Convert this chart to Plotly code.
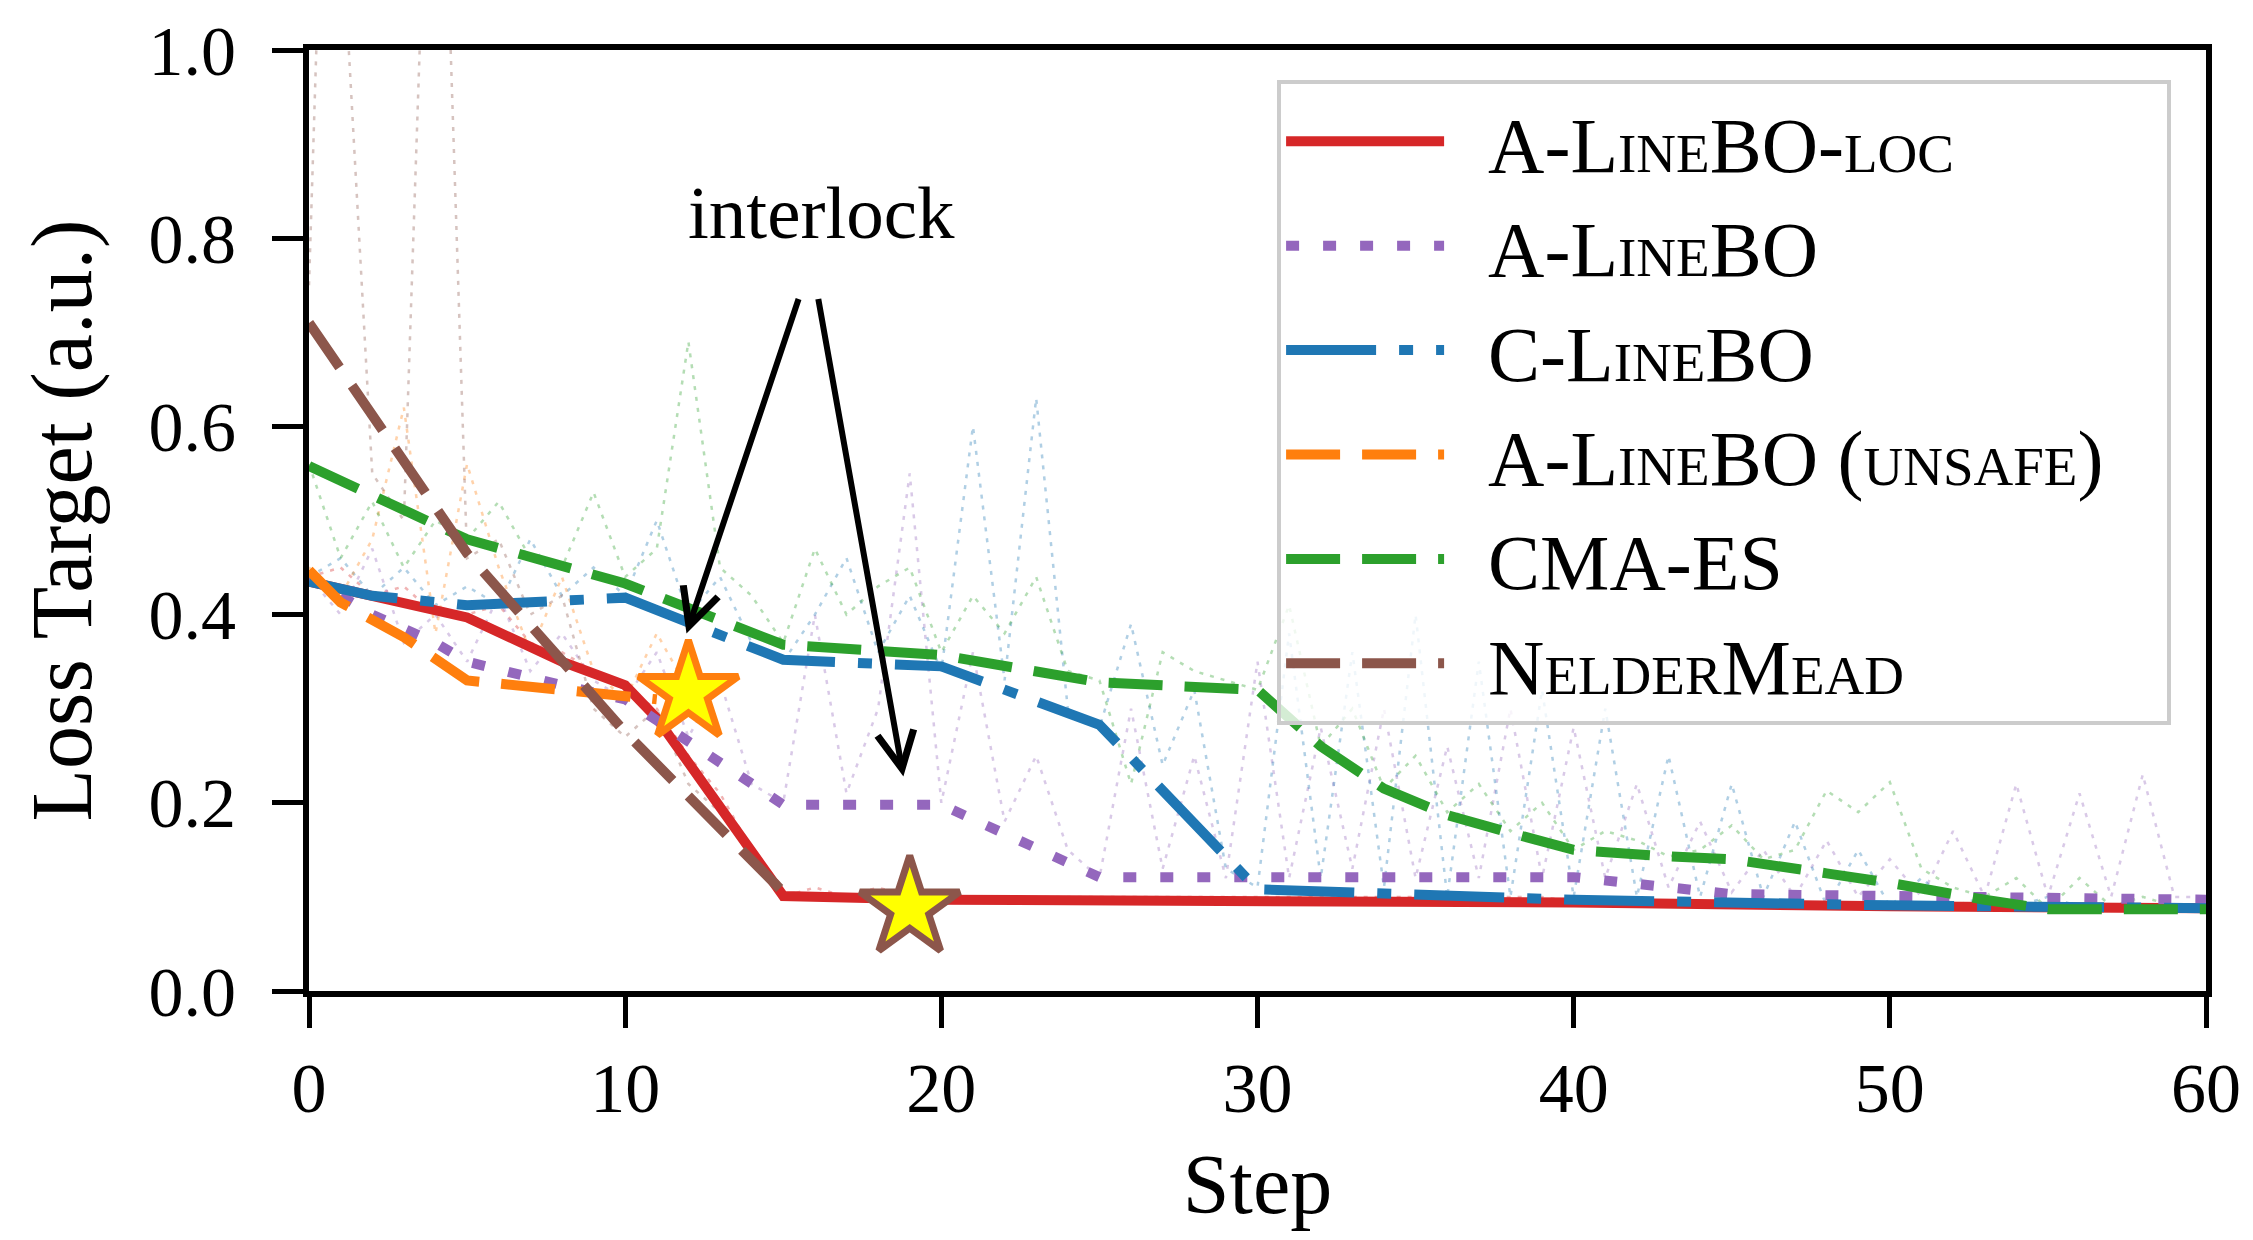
import plotly.graph_objects as go

# ---------------- data ----------------
steps = list(range(61))

# best-so-far curves (thick lines): vertex steps and values
loc_x = [0, 5, 8, 10, 11, 15, 20, 30, 40, 50, 55, 60]
loc_y = [0.435, 0.397, 0.35, 0.325, 0.29, 0.101, 0.097, 0.096, 0.094, 0.090, 0.088, 0.088]

alb_x = [0, 2, 4, 5, 8, 10, 15, 20, 25, 40, 45, 60]
alb_y = [0.44, 0.40, 0.37, 0.35, 0.325, 0.31, 0.198, 0.198, 0.121, 0.121, 0.103, 0.097]

clb_x = [0, 2, 5, 10, 15, 20, 25, 30, 40, 50, 60]
clb_y = [0.435, 0.42, 0.41, 0.418, 0.352, 0.345, 0.283, 0.108, 0.097, 0.091, 0.088]

uns_x = [0, 1, 3, 5, 8, 10, 11]
uns_y = [0.447, 0.413, 0.376, 0.33, 0.32, 0.313, 0.31]

cma_x = [0, 5, 10, 15, 20, 25, 30, 32, 34, 36, 38, 40, 43, 45, 48, 50, 53, 55, 60]
cma_y = [0.558, 0.48, 0.433, 0.368, 0.357, 0.328, 0.32, 0.26, 0.215, 0.187, 0.168, 0.15,
         0.143, 0.14, 0.125, 0.115, 0.097, 0.087, 0.087]

nm_x = [0, 5, 10, 15]
nm_y = [0.71, 0.465, 0.275, 0.105]

# raw evaluations (faint dotted lines), one value per step
loc_raw = [0.44, 0.45, 0.42, 0.43, 0.40, 0.40, 0.41, 0.37, 0.36, 0.34, 0.32, 0.30, 0.25, 0.21,
           0.15, 0.10, 0.11, 0.10, 0.11, 0.10, 0.10, 0.10, 0.10, 0.10, 0.10, 0.10, 0.10, 0.10,
           0.10, 0.10, 0.10, 0.10, 0.10, 0.10, 0.10, 0.10, 0.10, 0.10, 0.10, 0.10, 0.095, 0.095,
           0.095, 0.095, 0.095, 0.09, 0.09, 0.09, 0.09, 0.09, 0.09, 0.09, 0.09, 0.09, 0.09, 0.09,
           0.09, 0.09, 0.09, 0.09, 0.09]
alb_raw = [0.44, 0.40, 0.47, 0.37, 0.40, 0.35, 0.42, 0.34, 0.38, 0.33, 0.31, 0.36, 0.27, 0.33,
           0.22, 0.20, 0.40, 0.21, 0.30, 0.55, 0.20, 0.36, 0.18, 0.25, 0.15, 0.12, 0.30, 0.13,
           0.25, 0.12, 0.35, 0.12, 0.28, 0.13, 0.30, 0.12, 0.26, 0.12, 0.30, 0.12, 0.28, 0.12,
           0.22, 0.11, 0.18, 0.105, 0.15, 0.10, 0.16, 0.10, 0.14, 0.10, 0.17, 0.10, 0.22, 0.10,
           0.21, 0.10, 0.23, 0.10, 0.10]
clb_raw = [0.44, 0.46, 0.42, 0.45, 0.41, 0.43, 0.41, 0.48, 0.42, 0.45, 0.42, 0.50, 0.40, 0.44,
           0.37, 0.35, 0.40, 0.46, 0.36, 0.42, 0.34, 0.60, 0.33, 0.63, 0.30, 0.28, 0.39, 0.24,
           0.32, 0.13, 0.11, 0.38, 0.12, 0.36, 0.11, 0.40, 0.10, 0.35, 0.10, 0.32, 0.10, 0.30,
           0.10, 0.25, 0.10, 0.22, 0.10, 0.18, 0.09, 0.15, 0.09, 0.12, 0.09, 0.10, 0.09, 0.10,
           0.09, 0.09, 0.09, 0.09, 0.088]
uns_raw = [0.45, 0.42, 0.48, 0.62, 0.38, 0.56, 0.45, 0.36, 0.44, 0.34, 0.31, 0.38, 0.32]
cma_raw = [0.56, 0.46, 0.52, 0.45, 0.50, 0.48, 0.52, 0.46, 0.45, 0.53, 0.44, 0.47, 0.69, 0.45,
           0.42, 0.37, 0.47, 0.40, 0.43, 0.45, 0.36, 0.42, 0.38, 0.44, 0.34, 0.33, 0.22, 0.36,
           0.34, 0.33, 0.32, 0.41, 0.26, 0.30, 0.215, 0.25, 0.19, 0.22, 0.17, 0.20, 0.15, 0.17,
           0.16, 0.143, 0.15, 0.176, 0.14, 0.15, 0.213, 0.19, 0.222, 0.13, 0.11, 0.10, 0.12,
           0.087, 0.12, 0.09, 0.10, 0.09, 0.087]
nm_raw_x = [0, 0.6, 2, 3, 4, 5, 6, 7, 8, 9, 10, 11, 12, 13, 14, 15]
nm_raw = [0.75, 1.40, 0.55, 0.50, 1.50, 0.46, 0.48, 0.40, 0.42, 0.30, 0.27, 0.30, 0.22, 0.19,
          0.15, 0.11]

# interlock events (step, loss)
star_x = [12, 19]
star_y = [0.317, 0.088]

names = ["A-LineBO-loc", "A-LineBO", "C-LineBO", "A-LineBO (unsafe)", "CMA-ES", "NelderMead"]
colors = ["#d62728", "#9467bd", "#1f77b4", "#ff7f0e", "#2ca02c", "#8c564b"]
dashes = ["solid", "13px,24px", "90px,23px,14px,23px", "54px,22px", "54px,22px", "54px,22px"]
best_x = [loc_x, alb_x, clb_x, uns_x, cma_x, nm_x]
best_y = [loc_y, alb_y, clb_y, uns_y, cma_y, nm_y]
raw_x = [steps, steps, steps, steps, steps, nm_raw_x]
raws = [loc_raw, alb_raw, clb_raw, uns_raw, cma_raw, nm_raw]

FONT = "Liberation Serif"
PAD_L = "\u00a0\u00a0"
PAD_R = "\u00a0\u00a0\u00a0"

fig = go.Figure()

# faint raw-evaluation traces
for name, col, rx, raw in zip(names, colors, raw_x, raws):
    fig.add_trace(go.Scatter(
        x=rx[:len(raw)], y=raw, mode="lines",
        line=dict(color=col, width=2.5, dash="4px,7px"),
        opacity=0.35, showlegend=False, hoverinfo="skip"))

# thick best-so-far traces
for name, col, dsh, bx, by in zip(names, colors, dashes, best_x, best_y):
    fig.add_trace(go.Scatter(
        x=bx, y=by, mode="lines", name=PAD_L + name + PAD_R,
        line=dict(color=col, width=10, dash=dsh)))

# interlock stars
fig.add_trace(go.Scatter(
    x=star_x, y=star_y, mode="markers", showlegend=False,
    marker=dict(symbol="star", size=75, color="#ffff00",
                line=dict(color=["#ff7f0e", "#8c564b"], width=7))))

# annotation text and arrows
fig.add_annotation(x=16.2, y=0.827, text="interlock", showarrow=False,
                   font=dict(family=FONT, size=75, color="black"))
for hx, hy, tx, ty in [(11.94, 0.38, 15.5, 0.737), (18.8, 0.228, 16.1, 0.737)]:
    fig.add_annotation(x=hx, y=hy, ax=tx, ay=ty, xref="x", yref="y", axref="x", ayref="y",
                       text="", showarrow=True, arrowhead=5, arrowsize=1.2,
                       arrowwidth=6, arrowcolor="black", standoff=0)

axis_common = dict(
    showline=True, linecolor="black", linewidth=6, mirror=True,
    ticks="outside", ticklen=31, tickwidth=5, tickcolor="black",
    showgrid=False, zeroline=False,
    tickfont=dict(family=FONT, size=70, color="black"),
)

fig.update_layout(
    width=2253, height=1240,
    margin=dict(l=309, r=45, t=47, b=249),
    paper_bgcolor="white", plot_bgcolor="white",
    font=dict(family=FONT, color="black"),
    xaxis=dict(range=[0, 60], tickvals=[0, 10, 20, 30, 40, 50, 60],
               title=dict(text="Step", font=dict(family=FONT, size=84), standoff=30),
               **axis_common),
    yaxis=dict(range=[0, 1], tickvals=[0, 0.2, 0.4, 0.6, 0.8, 1.0], tickformat=".1f",
               ticklabelstandoff=22,
               title=dict(text="Loss Target (a.u.)", font=dict(family=FONT, size=86), standoff=30),
               **axis_common),
    legend=dict(
        x=0.9816, xanchor="right", y=0.968, yanchor="top",
        bgcolor="rgba(255,255,255,0.8)", bordercolor="#cccccc", borderwidth=4,
        font=dict(family=FONT, size=78, color="black", variant="small-caps"),
        itemwidth=158, tracegroupgap=0,
    ),
)

fig.write_html("out.html", config={"displayModeBar": False},
               post_script="document.body.style.margin='0';")
